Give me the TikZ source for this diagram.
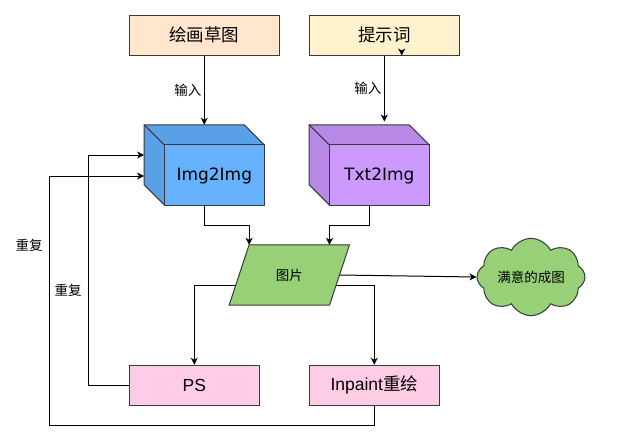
\documentclass[tikz,border=0pt]{standalone}
\usepackage{fontspec}
\usetikzlibrary{shapes.symbols,arrows.meta,calc}
\newfontfamily\cjk{Noto Sans CJK SC}
\newfontfamily\lib{Liberation Sans}
\newfontfamily\dej{DejaVu Sans}
\definecolor{strokeC}{HTML}{36393D}
\definecolor{peach}{HTML}{FFE6CC}
\definecolor{pale}{HTML}{FFF2CC}
\definecolor{blueF}{HTML}{66B2FF}
\definecolor{blueS}{HTML}{5AA0E6}
\definecolor{purpF}{HTML}{CC99FF}
\definecolor{purpS}{HTML}{B889E6}
\definecolor{greenC}{HTML}{97D077}
\definecolor{pinkC}{HTML}{FFCCE6}
\tikzset{
  box/.style={draw=strokeC, line width=1pt, minimum width=150pt, minimum height=40pt, inner sep=0pt},
  bigcjk/.style={font=\cjk\fontsize{17.5}{20}\selectfont},
  smallcjk/.style={font=\cjk\fontsize{13.5}{16}\selectfont},
  latin/.style={font=\lib\fontsize{17.5}{20}\selectfont},
  cubetext/.style={font=\dej\fontsize{17}{20}\selectfont},
  ghost/.style={minimum width=120pt, minimum height=80pt, inner sep=0pt},
  arr/.style={draw=black, line width=1pt, -{Stealth[length=7pt,width=7pt,inset=2pt]}},
  ln/.style={draw=black, line width=1pt},
  shapeline/.style={draw=strokeC, line width=1pt, line join=miter}
}
\begin{document}
\begin{tikzpicture}[x=1pt,y=-1pt]
\useasboundingbox[fill=white] (0,0) rectangle (620,440);

% top boxes
\node[box, fill=peach, bigcjk] (sketch) at (204.3,35) {绘画草图};
\node[box, fill=pale, bigcjk] (prompt) at (384.3,35) {提示词};

% cubes (bounding nodes)
\node[ghost] (imgc) at (204.3,165) {};
\node[ghost] (txtc) at (369.3,165) {};

\foreach \c/\s/\f in {imgc/blueS/blueF, txtc/purpS/purpF}{
  \path[shapeline, fill=\s] (\c.north west) -- ++(100,0) -- ++(20,20) -- ++(0,60) -- ++(-100,0) -- ++(-20,-20) -- cycle;
  \path[shapeline, fill=\f] ($(\c.north west)+(20,20)$) rectangle (\c.south east);
  \path[shapeline] (\c.north west) -- ++(20,20);
}
\node[cubetext] (imgt) at (214.3,176) {Img2Img};
\node[cubetext] (txtt) at (379.3,176) {Txt2Img};

% parallelogram
\node[minimum width=120pt, minimum height=60pt, inner sep=0pt] (pic) at (289.3,275) {};
\path[shapeline, fill=greenC] ($(pic.north west)+(20,0)$) -- (pic.north east) -- ($(pic.south east)+(-20,0)$) -- (pic.south west) -- cycle;
\node[smallcjk] (pict) at (289.3,275) {图片};

% cloud
\node[cloud, draw=strokeC, line width=1pt, fill=greenC, cloud puffs=8, cloud puff arc=125, aspect=1.6,
      minimum width=108pt, minimum height=69pt, inner sep=0pt, smallcjk] (cloud) at (531,277) {满意的成图};

% bottom boxes
\node[box, fill=pinkC, minimum width=130pt, latin] (ps) at (194.3,385.3) {PS};
\node[box, fill=pinkC, minimum width=130pt, font=\fontsize{17.5}{20}\selectfont] (inp) at (374.3,385.3) {{\lib Inpaint}{\cjk 重绘}};

% connectors
\draw[arr] (sketch.south) -- node[midway, left, inner sep=2.5pt, smallcjk] {输入} (imgc.north);
\draw[arr] (prompt.south) -- node[midway, left, inner sep=2.5pt, smallcjk] {输入} ($(prompt.south)+(0,66)$);
\draw[arr] ($(prompt.south)+(17.4,-6)$) -- ($(prompt.south)+(17.4,0)$);

\draw[arr] (imgc.south) -- ++(0,20) -| ($(pic.north west)+(20,0)$);
\draw[arr] (txtc.south) -- ++(0,20) -| ($(pic.north east)+(-20,0)$);
\draw[arr] ($(pic.east)+(-10,0)$) -- (cloud.west);
\draw[arr] ($(pic.west)+(6.7,10)$) -| (ps.north);
\draw[arr] ($(pic.east)+(-13.3,10)$) -| (inp.north);

\draw[arr] (ps.west) -- ++(-40,0) |- ($(imgc.west)+(0,-10)$);
\draw[arr] (inp.south) -- ++(0,20) -| ($(imgc.west)+(-95,11)$) -- ($(imgc.west)+(0,11)$);

\node[smallcjk] (rep1) at (29,245) {重复};
\node[smallcjk] (rep2) at (68,290) {重复};
\end{tikzpicture}
\end{document}
